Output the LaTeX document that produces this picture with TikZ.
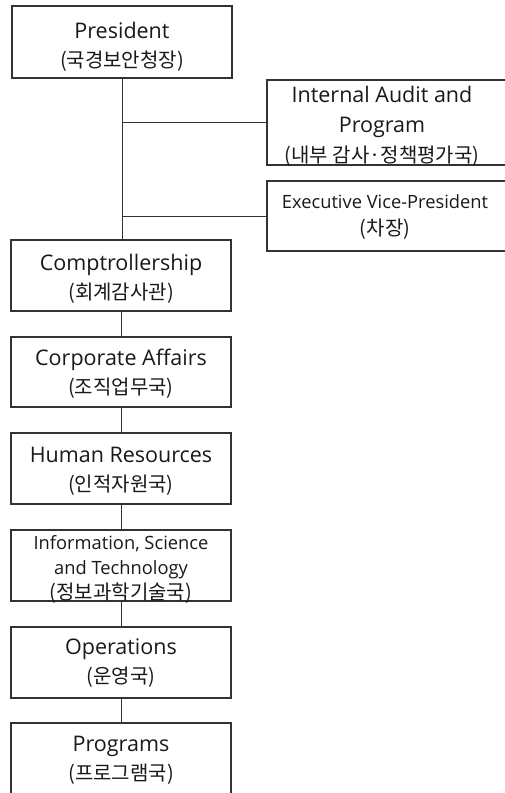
\documentclass[tikz,border=0pt]{standalone}
\usepackage{fontspec}
\setmainfont{Open Sans}
\newfontfamily\kr{Noto Sans CJK KR}
\newcommand\korline[1]{{\kr\fontsize{20}{20}\selectfont #1}}
\begin{document}
\begin{tikzpicture}[x=1pt,y={(0pt,-1pt)},
  box/.style={draw=black!80, line width=1.1pt, rectangle, inner sep=0pt, fill=none},
  conn/.style={draw=black!80, line width=1pt},
  txt/.style={align=center, inner sep=0pt, text=black!90, font=\fontsize{21.5}{29}\selectfont},
  smalltxt/.style={align=center, inner sep=0pt, text=black!90, font=\fontsize{18.3}{25}\selectfont}]
\useasboundingbox (0,0) rectangle (504,793);
\fill[white] (0,0) rectangle (504,793);
% boxes
\node[box, minimum width=220pt, minimum height=72pt] (pres) at (122,42) {};
\node[box, minimum width=253pt, minimum height=85pt] (ia) at (393.5,122.5) {};
\node[box, minimum width=253pt, minimum height=70pt] (evp) at (393.5,216) {};
\node[box, minimum width=220pt, minimum height=71pt] (compt) at (121,275.5) {};
\node[box, minimum width=220pt, minimum height=70pt] (corp) at (121,372) {};
\node[box, minimum width=220pt, minimum height=71pt] (hr) at (121,468.5) {};
\node[box, minimum width=220pt, minimum height=71pt] (info) at (121,565.5) {};
\node[box, minimum width=220pt, minimum height=71pt] (ops) at (121,662.5) {};
\node[box, minimum width=220pt, minimum height=74pt] (prog) at (121,760) {};
% texts
\node[txt] (presT) at (122,47) {President\\\korline{(국경보안청장)}};
\node[txt, font=\fontsize{21.5}{30}\selectfont] (iaT) at (382,126.5) {Internal Audit and\\Program\\\korline{(내부 감사·정책평가국)}};
\node[smalltxt, font=\fontsize{18.3}{27}\selectfont] (evpT) at (385,217) {Executive Vice-President\\\korline{(차장)}};
\node[txt] (comptT) at (121,278.5) {Comptrollership\\\korline{(회계감사관)}};
\node[txt] (corpT) at (121,374) {Corporate Affairs\\\korline{(조직업무국)}};
\node[txt] (hrT) at (121,471) {Human Resources\\\korline{(인적자원국)}};
\node[smalltxt] (infoT) at (121,569.5) {Information, Science\\and Technology\\\korline{(정보과학기술국)}};
\node[txt] (opsT) at (121,663.5) {Operations\\\korline{(운영국)}};
\node[txt] (progT) at (121,760) {Programs\\\korline{(프로그램국)}};
% connectors
\draw[conn] (pres.south) -- (pres.south |- compt.north);
\draw[conn] (pres.south |- ia.west) -- (ia.west);
\draw[conn] (pres.south |- evp.west) -- (evp.west);
\draw[conn] (compt.south) -- (corp.north);
\draw[conn] (corp.south) -- (hr.north);
\draw[conn] (hr.south) -- (info.north);
\draw[conn] (info.south) -- (ops.north);
\draw[conn] (ops.south) -- (prog.north);
\end{tikzpicture}
\end{document}
